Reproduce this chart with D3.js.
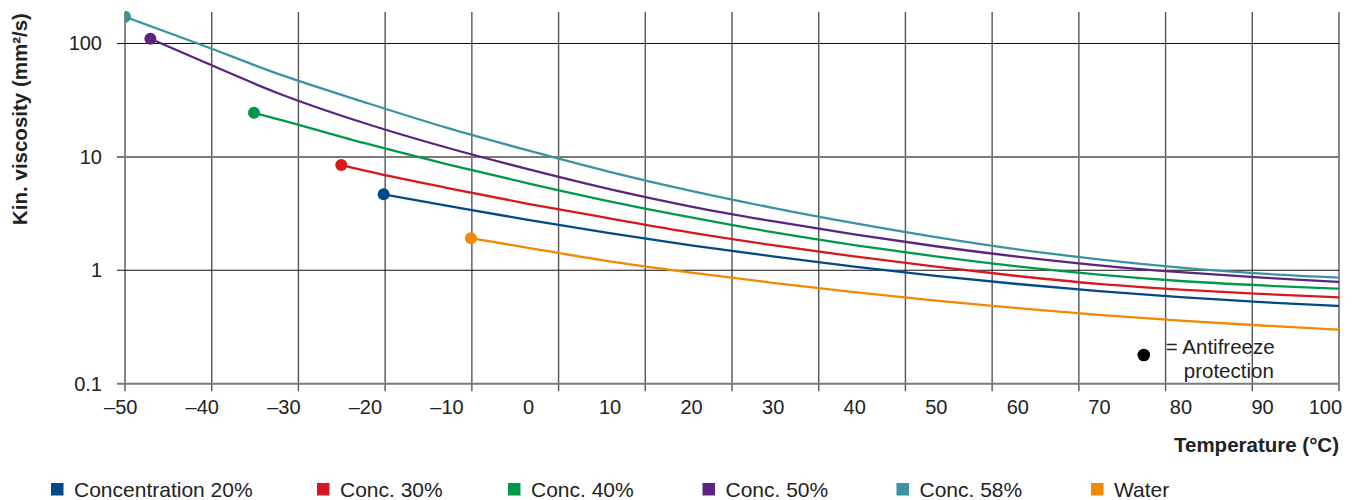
<!DOCTYPE html>
<html>
<head>
<meta charset="utf-8">
<script src="https://cdn.jsdelivr.net/npm/d3@7"></script>
<style>
  body { margin: 0; background: #fff; }
  svg { display: block; }
  text { font-family: "Liberation Sans", Arial, Helvetica, sans-serif; fill: #222; }
</style>
</head>
<body>
<svg id="chart" width="1359" height="500"></svg>
<script>
// ---------------- DATA ----------------
const seriesNames = ["Concentration 20%", "Conc. 30%", "Conc. 40%", "Conc. 50%", "Conc. 58%", "Water"];
const seriesColors = ["#004b87", "#d7191f", "#00984a", "#5b2483", "#3a93a2", "#f18a00"];

// temperatures (°C) and kinematic viscosity (mm²/s); first point = antifreeze protection
const temp20  = [-17.7, -10, 0, 10, 20, 30, 40, 50, 60, 70, 80, 90, 100];
const visc20  = [4.68, 3.72, 2.78, 2.13, 1.66, 1.327, 1.079, 0.893, 0.757, 0.656, 0.581, 0.524, 0.482];

const temp30  = [-22.9, -20, -10, 0, 10, 20, 30, 40, 50, 60, 70, 80, 90, 100];
const visc30  = [8.48, 7.56, 5.34, 3.86, 2.87, 2.15, 1.667, 1.324, 1.077, 0.891, 0.759, 0.676, 0.619, 0.575];

const temp40  = [-33.6, -30, -20, -10, 0, 10, 20, 30, 40, 50, 60, 70, 80, 90, 100];
const visc40  = [24.5, 20.9, 13.2, 8.65, 5.85, 4.06, 2.93, 2.17, 1.67, 1.324, 1.081, 0.916, 0.805, 0.735, 0.686];

const temp50  = [-46.3, -40, -30, -20, -10, 0, 10, 20, 30, 40, 50, 60, 70, 80, 90, 100];
const visc50  = [110, 70, 35, 19.8, 12.1, 7.8, 5.2, 3.65, 2.71, 2.07, 1.63, 1.32, 1.106, 0.962, 0.861, 0.787];

const temp58  = [-49.4, -40, -30, -20, -10, 0, 10, 20, 30, 40, 50, 60, 70, 80, 90, 100];
const visc58  = [172, 97, 52, 30.3, 18.1, 11.4, 7.38, 5.01, 3.55, 2.60, 1.96, 1.53, 1.25, 1.057, 0.936, 0.857];

const tempWater = [-7.0, 0, 10, 20, 30, 40, 50, 60, 70, 80, 90, 100];
const viscWater = [1.92, 1.58, 1.20, 0.955, 0.776, 0.643, 0.541, 0.463, 0.405, 0.360, 0.326, 0.298];

const seriesTemps = [temp20, temp30, temp40, temp50, temp58, tempWater];
const seriesVisc  = [visc20, visc30, visc40, visc50, visc58, viscWater];

const xTickLabels = [-50, -40, -30, -20, -10, 0, 10, 20, 30, 40, 50, 60, 70, 80, 90, 100];
const yTickValues = [0.1, 1, 10, 100];
const gridCount = 15;               // vertical grid lines drawn across the plot
const annotationPoint = [75.5, 0.179];
const annotationLines = ["= Antifreeze", "protection"];
const xTitle = "Temperature (°C)";
const yTitle = "Kin. viscosity (mm²/s)";

// ---------------- LAYOUT ----------------
const plot = { left: 125, right: 1339, top: 12, bottom: 383.7 };
const legendX = [51, 317, 508, 702.5, 896.5, 1091];

const svg = d3.select("#chart");

const x = d3.scaleLinear().domain([-50, 100]).range([120.2, 1343.6]);
const y = d3.scaleLog().domain([0.1, 100]).range([383.7, 43.5]);
const gridX = d3.scaleLinear().domain([0, gridCount - 1]).range([plot.left, plot.right]);

// clip
svg.append("defs").append("clipPath").attr("id", "plotclip")
  .append("rect").attr("x", plot.left).attr("y", 0)
  .attr("width", plot.right - plot.left).attr("height", plot.bottom);

// vertical grid lines (with tick extension below the axis)
svg.append("g").selectAll("line").data(d3.range(gridCount)).join("line")
  .attr("x1", d => gridX(d)).attr("x2", d => gridX(d))
  .attr("y1", plot.top).attr("y2", plot.bottom + 7.5)
  .attr("stroke", "#555").attr("stroke-width", 1.4);

// horizontal grid lines (decades)
svg.append("g").selectAll("line").data(yTickValues).join("line")
  .attr("x1", plot.left - 8).attr("x2", plot.right)
  .attr("y1", d => y(d)).attr("y2", d => y(d))
  .attr("stroke", d => (d === 1 || d === 100) ? "#111" : "#7a7a7a")
  .attr("stroke-width", d => (d === 1 || d === 100) ? 1.1 : 2);

// y axis labels
const yAxis = d3.axisLeft(y).tickValues(yTickValues)
  .tickFormat(d => String(d)).tickSize(0).tickPadding(23);
const gy = svg.append("g").attr("transform", `translate(${plot.left},0)`).call(yAxis);
gy.select(".domain").remove();
gy.selectAll("text").attr("font-size", 20).attr("fill", "#222")
  .style("font-family", '"Liberation Sans", Arial, sans-serif');

// x axis labels
const xAxis = d3.axisBottom(x).tickValues(xTickLabels)
  .tickFormat(d => d < 0 ? "\u2013" + Math.abs(d) : String(d)).tickSize(0).tickPadding(16);
const gx = svg.append("g").attr("transform", `translate(0,${plot.bottom})`).call(xAxis);
gx.select(".domain").remove();
gx.selectAll("text").attr("font-size", 20).attr("fill", "#222")
  .style("font-family", '"Liberation Sans", Arial, sans-serif');
gx.selectAll(".tick").filter(d => d === 100).select("text")
  .attr("text-anchor", "end").attr("x", -2);

// curves
const line = d3.line().x(d => x(d[0])).y(d => y(d[1])).curve(d3.curveMonotoneX);
const gCurves = svg.append("g").attr("clip-path", "url(#plotclip)");
seriesNames.forEach((name, i) => {
  const pts = seriesTemps[i].map((t, j) => [t, seriesVisc[i][j]]);
  gCurves.append("path").datum(pts)
    .attr("d", line).attr("fill", "none")
    .attr("stroke", seriesColors[i]).attr("stroke-width", 2.3);
  gCurves.append("circle")
    .attr("cx", x(pts[0][0])).attr("cy", y(pts[0][1])).attr("r", 6)
    .attr("fill", seriesColors[i]);
});

// annotation
svg.append("circle").attr("cx", x(annotationPoint[0])).attr("cy", y(annotationPoint[1]))
  .attr("r", 6.3).attr("fill", "#000");
const ann = svg.append("text").attr("font-size", 20.5)
  .attr("x", x(annotationPoint[0]) + 22).attr("y", y(annotationPoint[1]) - 1);
ann.append("tspan").text(annotationLines[0]);
ann.append("tspan").attr("x", x(annotationPoint[0]) + 40).attr("dy", 23.5).text(annotationLines[1]);

// axis titles
svg.append("text").attr("x", plot.right).attr("y", 452)
  .attr("text-anchor", "end").attr("font-size", 20.5).attr("font-weight", "bold")
  .attr("fill", "#111").text(xTitle);
svg.append("text").attr("transform", "translate(27,119) rotate(-90)")
  .attr("text-anchor", "middle").attr("font-size", 20.5).attr("font-weight", "bold")
  .attr("fill", "#111").text(yTitle);

// legend
const lg = svg.append("g").selectAll("g").data(seriesNames).join("g")
  .attr("transform", (d, i) => `translate(${legendX[i]},0)`);
lg.append("rect").attr("x", 0).attr("y", 483).attr("width", 12.5).attr("height", 12.5)
  .attr("fill", (d, i) => seriesColors[i]);
lg.append("text").attr("x", 23).attr("y", 496.5).attr("font-size", 21).text(d => d);
</script>
</body>
</html>
